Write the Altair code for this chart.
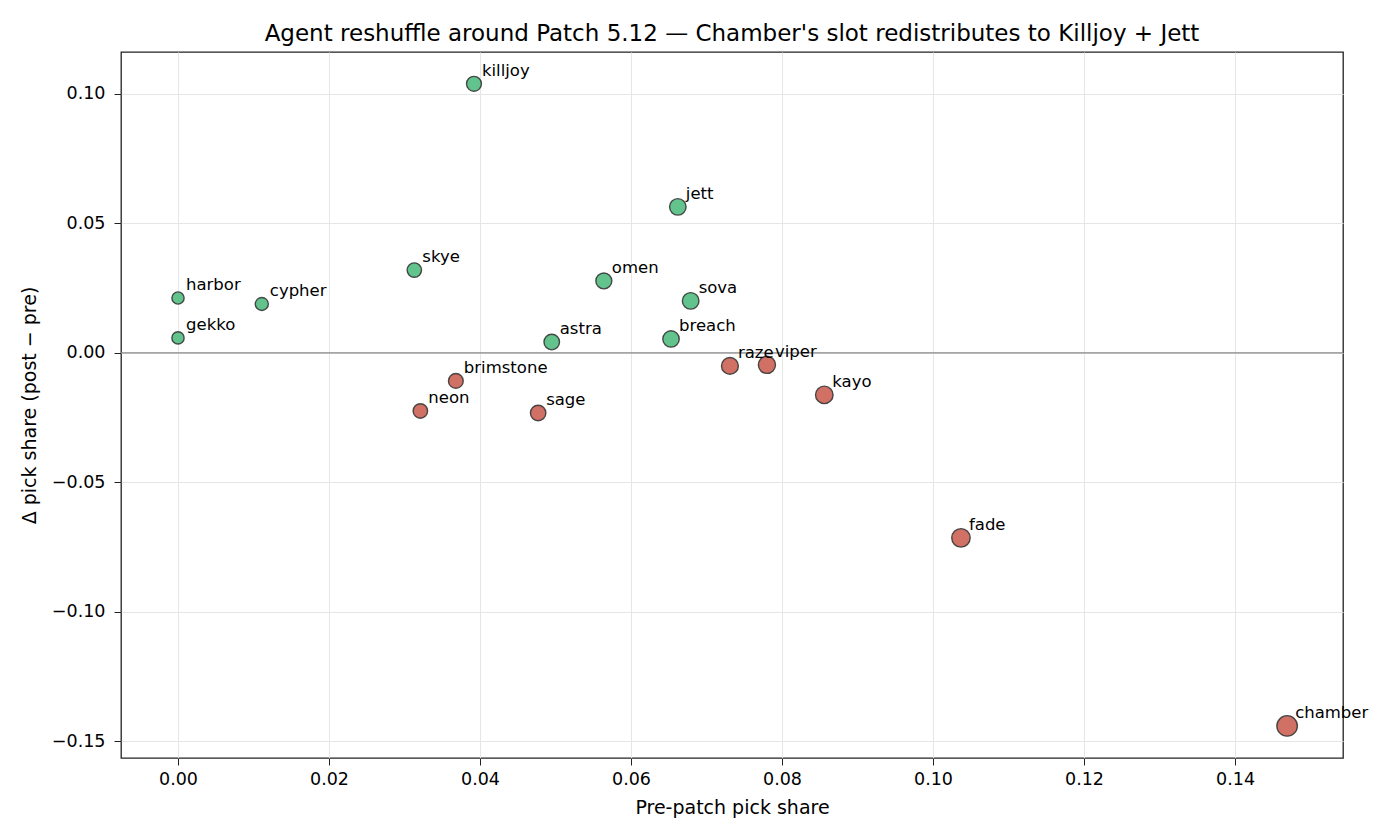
import altair as alt
import pandas as pd

agents = ["killjoy", "jett", "skye", "omen", "sova", "harbor", "cypher", "gekko",
          "astra", "breach", "raze", "viper", "brimstone", "neon", "sage", "kayo",
          "fade", "chamber"]
pre_share = [0.0392, 0.0662, 0.0313, 0.0564, 0.0679, 0.0, 0.0111, 0.0,
             0.0495, 0.0653, 0.0731, 0.0780, 0.0368, 0.0321, 0.0477, 0.0856,
             0.1037, 0.1469]
delta_share = [0.1039, 0.0564, 0.0320, 0.0278, 0.0201, 0.0212, 0.0189, 0.0058,
               0.0042, 0.0054, -0.0050, -0.0046, -0.0108, -0.0224, -0.0232, -0.0162,
               -0.0714, -0.1440]

df = pd.DataFrame({"agent": agents, "pre": pre_share, "delta": delta_share})
df["dir"] = ["gain" if d >= 0 else "loss" for d in delta_share]

FONT = "DejaVu Sans"

xscale = alt.Scale(domain=[-0.00755, 0.1543], nice=False, zero=False)
yscale = alt.Scale(domain=[-0.1564, 0.1162], nice=False, zero=False)

base = alt.Chart(df)

zero = alt.Chart(pd.DataFrame({"y": [0.0]})).mark_rule(
    color="#888888", strokeWidth=1.2
).encode(y=alt.Y("y:Q", scale=yscale))

points = base.mark_circle(opacity=0.9, stroke="#222222", strokeWidth=1.4, strokeOpacity=0.9).encode(
    x=alt.X("pre:Q", scale=xscale, title="Pre-patch pick share",
            axis=alt.Axis(values=[0.0, 0.02, 0.04, 0.06, 0.08, 0.10, 0.12, 0.14], format=".2f")),
    y=alt.Y("delta:Q", scale=yscale, title="Δ pick share (post − pre)",
            axis=alt.Axis(values=[-0.15, -0.10, -0.05, 0.0, 0.05, 0.10], format=".2f")),
    color=alt.Color("dir:N", scale=alt.Scale(domain=["gain", "loss"], range=["#52BE80", "#CD6155"]), legend=None),
    size=alt.Size("pre:Q", scale=alt.Scale(domain=[0, 0.147], range=[150, 420]), legend=None),
)

labels = base.mark_text(align="left", baseline="alphabetic", dx=8, dy=-8,
                        font=FONT, fontSize=16.5, color="black").encode(
    x=alt.X("pre:Q", scale=xscale),
    y=alt.Y("delta:Q", scale=yscale),
    text="agent:N",
)

chart = alt.layer(zero, points, labels).properties(
    width=1222, height=706,
    autosize="none",
    padding={"left": 121, "top": 52, "right": 57, "bottom": 82},
    title=alt.Title("Agent reshuffle around Patch 5.12 — Chamber's slot redistributes to Killjoy + Jett",
                    font=FONT, fontSize=23, fontWeight="normal", color="black", offset=6),
).configure_view(
    stroke="#222222", strokeWidth=1.3
).configure_axis(
    labelFont=FONT, titleFont=FONT, labelFontSize=17.5, titleFontSize=19,
    titleFontWeight="normal", labelColor="black", titleColor="black",
    gridColor="#e6e6e6", gridWidth=1, domain=False,
    tickColor="#222222", tickSize=7,
).configure_axisX(labelPadding=5, titlePadding=11).configure_axisY(labelPadding=9, titlePadding=12)

chart.save("out.html", embed_options={"renderer": "svg", "actions": False})
